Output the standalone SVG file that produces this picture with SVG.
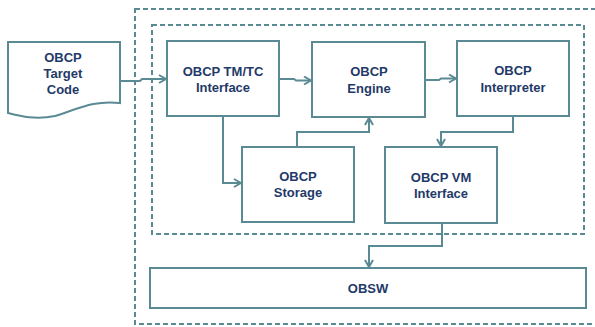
<svg xmlns="http://www.w3.org/2000/svg" width="595" height="327" viewBox="0 0 595 327">
<style>
.b{fill:#fff;stroke:#5A8A94;stroke-width:2}
.d{fill:none;stroke:#5A8A94;stroke-width:2;stroke-dasharray:5,3}
.c{fill:none;stroke:#5A8A94;stroke-width:2}
text{font-family:"Liberation Sans",Arial,sans-serif;font-weight:bold;font-size:13px;fill:#1F3A68;text-anchor:middle}
</style>
<defs>
<marker id="a" viewBox="0 0 10 10" refX="9" refY="5" markerWidth="10" markerHeight="10" markerUnits="userSpaceOnUse" orient="auto">
<path d="M2,1 L9,5 L2,9" fill="none" stroke="#5A8A94" stroke-width="2"/>
</marker>
</defs>
<g id="outer"><rect class="d" x="135" y="9" width="463" height="315"/></g>
<g id="inner"><rect class="d" x="152" y="25" width="432" height="209"/></g>
<g id="target"><path class="b" d="M8,42 H120 V103 C95,100 80,108 55,116 C35,120 20,116 8,113 Z"/>
<text x="63" y="62">OBCP</text><text x="63" y="78">Target</text><text x="63" y="94">Code</text></g>
<g id="tmtc"><rect class="b" x="167" y="41" width="112" height="75"/><text x="223" y="76">OBCP TM/TC</text><text x="223" y="92">Interface</text></g>
<g id="engine"><rect class="b" x="312" y="42" width="113" height="75"/><text x="369" y="76">OBCP</text><text x="369" y="93">Engine</text></g>
<g id="interp"><rect class="b" x="457" y="41" width="112" height="75"/><text x="513" y="75">OBCP</text><text x="513" y="92">Interpreter</text></g>
<g id="storage"><rect class="b" x="242" y="147" width="112" height="75"/><text x="298" y="181">OBCP</text><text x="298" y="197">Storage</text></g>
<g id="vm"><rect class="b" x="385" y="147" width="112" height="76"/><text x="441" y="182">OBCP VM</text><text x="441" y="198">Interface</text></g>
<g id="obsw"><rect class="b" x="150" y="268" width="436" height="40"/><text x="368" y="293">OBSW</text></g>
<g id="connectors">
<path class="c" marker-end="url(#a)" d="M120,81 H140 L142,79 H166"/>
<path class="c" marker-end="url(#a)" d="M279,79 H294 L296,80.5 H311"/>
<path class="c" marker-end="url(#a)" d="M425,80 H439 L441,78.5 H456"/>
<path class="c" marker-end="url(#a)" d="M513,116 V132 H441 V146"/>
<path class="c" marker-end="url(#a)" d="M223,116 V183 H241"/>
<path class="c" marker-end="url(#a)" d="M297,147 V132 H369 V118"/>
<path class="c" marker-end="url(#a)" d="M442,223 V246 H369 V267"/>
</g>
</svg>
